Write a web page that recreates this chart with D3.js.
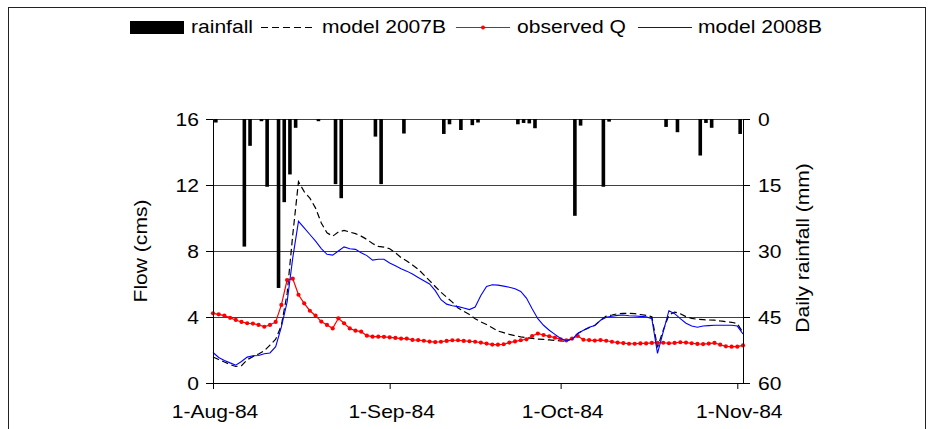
<!DOCTYPE html>
<html>
<head>
<meta charset="utf-8">
<script src="https://cdn.jsdelivr.net/npm/d3@7"></script>
<style>
  html, body { margin: 0; padding: 0; background: #fff; }
  svg { display: block; }
  text { font-family: "Liberation Sans", Arial, sans-serif; font-size: 18px; fill: #000; }
</style>
</head>
<body>
<svg id="chart" width="935" height="429"></svg>
<script>
// Daily series, 1 Aug 1984 .. 2 Nov 1984 (one value per day)
const startDate = "1984-08-01";
const endDate = "1984-11-02";

const observedQ = [
  4.22, 4.16, 4.08, 3.95, 3.82, 3.70, 3.62, 3.60, 3.52, 3.41,
  3.52, 3.70, 4.73, 6.24, 6.32, 5.35, 4.83, 4.38, 4.08, 3.72,
  3.52, 3.31, 3.92, 3.62, 3.31, 3.17, 3.11, 2.87, 2.81, 2.81,
  2.80, 2.77, 2.73, 2.69, 2.69, 2.61, 2.60, 2.56, 2.51, 2.48,
  2.50, 2.55, 2.59, 2.59, 2.55, 2.53, 2.50, 2.45, 2.39, 2.33,
  2.32, 2.35, 2.45, 2.52, 2.59, 2.65, 2.85, 3.00, 2.91, 2.83,
  2.75, 2.65, 2.58, 2.69, 2.85, 2.62, 2.60, 2.57, 2.60, 2.56,
  2.50, 2.45, 2.42, 2.38, 2.38, 2.40, 2.40, 2.43, 2.44, 2.44,
  2.41, 2.43, 2.47, 2.45, 2.41, 2.37, 2.36, 2.39, 2.43, 2.32,
  2.22, 2.20, 2.20, 2.28
];

const model2007B = [
  1.58, 1.42, 1.27, 1.12, 1.00, 1.05, 1.41, 1.60, 1.76, 1.95,
  2.30, 2.65, 3.50, 5.40, 9.00, 12.20, 11.60, 11.20, 10.60, 9.70,
  9.10, 8.90, 9.15, 9.25, 9.15, 9.05, 8.90, 8.70, 8.45, 8.28,
  8.24, 8.14, 7.90, 7.60, 7.40, 7.15, 6.90, 6.55, 6.20, 5.85,
  5.50, 5.20, 4.90, 4.55, 4.35, 4.15, 3.90, 3.70, 3.55, 3.35,
  3.15, 3.05, 2.95, 2.87, 2.80, 2.74, 2.70, 2.66, 2.64, 2.61,
  2.58, 2.55, 2.52, 2.70, 3.00, 3.20, 3.35, 3.50, 3.80, 4.05,
  4.12, 4.20, 4.22, 4.22, 4.20, 4.15, 4.10, 4.02, 2.16, 3.20,
  4.12, 4.30, 4.20, 4.02, 3.92, 3.86, 3.84, 3.82, 3.81, 3.76,
  3.72, 3.68, 3.60, 3.05
];

const model2008B = [
  1.85, 1.55, 1.37, 1.22, 1.08, 1.30, 1.57, 1.65, 1.67, 1.77,
  1.82, 2.20, 3.40, 4.90, 7.60, 9.80, 9.40, 9.00, 8.60, 8.15,
  7.80, 7.75, 8.00, 8.25, 8.14, 8.10, 7.90, 7.72, 7.45, 7.50,
  7.50, 7.27, 7.10, 6.93, 6.78, 6.60, 6.40, 6.20, 6.00, 5.60,
  5.05, 4.78, 4.68, 4.63, 4.55, 4.45, 4.60, 5.30, 5.85, 5.95,
  5.93, 5.87, 5.80, 5.71, 5.55, 5.15, 4.50, 3.90, 3.50, 3.20,
  2.95, 2.70, 2.56, 2.65, 3.00, 3.20, 3.38, 3.48, 3.80, 3.98,
  4.05, 4.10, 4.12, 4.08, 4.06, 4.04, 4.02, 3.90, 1.80, 3.10,
  4.38, 4.20, 3.90, 3.62, 3.45, 3.38, 3.45, 3.48, 3.50, 3.50,
  3.50, 3.50, 3.45, 2.97
];

// Days with measurable rainfall
const rainDates = [
  "1984-08-01", "1984-08-06", "1984-08-07", "1984-08-09", "1984-08-10",
  "1984-08-12", "1984-08-13", "1984-08-14", "1984-08-15", "1984-08-19",
  "1984-08-22", "1984-08-23", "1984-08-29", "1984-08-30", "1984-09-03",
  "1984-09-10", "1984-09-11", "1984-09-13", "1984-09-15", "1984-09-16",
  "1984-09-23", "1984-09-24", "1984-09-25", "1984-09-26", "1984-10-03",
  "1984-10-04", "1984-10-08", "1984-10-09", "1984-10-19", "1984-10-21",
  "1984-10-25", "1984-10-26", "1984-10-27", "1984-11-01"
];
const rainMm = [
  0.8, 29.0, 6.1, 0.5, 15.4,
  38.4, 18.9, 12.6, 2.0, 0.5,
  14.8, 18.0, 4.0, 14.8, 3.3,
  3.4, 1.2, 2.5, 1.4, 0.8,
  1.2, 0.9, 1.0, 2.1, 22.0,
  1.5, 15.4, 0.6, 1.8, 3.0,
  8.3, 0.9, 2.0, 3.4
];

const flowTicks = [0, 4, 8, 12, 16];
const rainTicks = [0, 15, 30, 45, 60];
const dateTicks = ["1984-08-01", "1984-09-01", "1984-10-01", "1984-11-01"];
const legendLabels = ["rainfall", "model 2007B", "observed Q", "model 2008B"];

// ---- layout ----
const svg = d3.select("#chart");
const plot = { left: 213, right: 743, top: 119, bottom: 383 };
const stretchX = 1.17;              // wide lettering
const parse = d3.utcParse("%Y-%m-%d");
const start = parse(startDate);

const x = d3.scaleUtc().domain([start, parse(endDate)]).range([plot.left, plot.right]);
const yFlow = d3.scaleLinear().domain([0, 16]).range([plot.bottom, plot.top]);
const yRain = d3.scaleLinear().domain([0, 60]).range([plot.top, plot.bottom]);

const dayDate = i => d3.utcDay.offset(start, i);
const dayW = x(dayDate(1)) - x(start);

// outer chart frame
svg.append("rect")
  .attr("x", 8.5).attr("y", 7.5).attr("width", 917).attr("height", 440)
  .attr("fill", "none").attr("stroke", "#222").attr("stroke-width", 1);

// horizontal gridlines
svg.append("g")
  .attr("transform", `translate(${plot.left},0)`)
  .call(d3.axisLeft(yFlow).tickValues(flowTicks.filter(v => v > 0))
    .tickSize(-(plot.right - plot.left)).tickSizeOuter(0).tickFormat(""))
  .call(g => g.select(".domain").remove())
  .call(g => g.selectAll(".tick line").attr("stroke", "#404040"));

// rainfall bars hanging from the top
const barW = 3.6;
svg.append("g").selectAll("rect")
  .data(rainDates.map((d, i) => ({ date: parse(d), mm: rainMm[i] })))
  .join("rect")
  .attr("x", d => x(d.date) + dayW / 2 - barW / 2)
  .attr("y", yRain(0))
  .attr("width", barW)
  .attr("height", d => yRain(d.mm) - yRain(0))
  .attr("fill", "#000");

// flow lines
const line = d3.line().x((d, i) => x(dayDate(i))).y(d => yFlow(d));

svg.append("path").datum(model2007B)
  .attr("d", line).attr("fill", "none")
  .attr("stroke", "#000").attr("stroke-width", 1.2).attr("stroke-dasharray", "6.5,3.5");

svg.append("path").datum(observedQ)
  .attr("d", line).attr("fill", "none")
  .attr("stroke", "#ff0000").attr("stroke-width", 1.2);
svg.append("g").selectAll("circle").data(observedQ).join("circle")
  .attr("cx", (d, i) => x(dayDate(i))).attr("cy", d => yFlow(d))
  .attr("r", 2.1).attr("fill", "#ff0000");

svg.append("path").datum(model2008B)
  .attr("d", line).attr("fill", "none")
  .attr("stroke", "#0000ff").attr("stroke-width", 1.1);

// axes
function styleAxis(g, dx, dy) {
  g.attr("font-size", null).attr("font-family", null);
  g.select(".domain").attr("stroke", "#000");
  g.selectAll(".tick line").attr("stroke", "#000");
  g.selectAll(".tick text")
    .attr("x", null).attr("y", null).attr("dy", null)
    .attr("fill", "#000")
    .attr("transform", `translate(${dx},${dy}) scale(${stretchX},1)`);
}

svg.append("g")
  .attr("transform", `translate(${plot.left},0)`)
  .call(d3.axisLeft(yFlow).tickValues(flowTicks).tickSize(7).tickSizeOuter(0))
  .call(g => styleAxis(g, -14, 6.5));

svg.append("g")
  .attr("transform", `translate(${plot.right},0)`)
  .call(d3.axisRight(yRain).tickValues(rainTicks).tickSize(7).tickSizeOuter(0))
  .call(g => styleAxis(g, 15, 6.5));

svg.append("g")
  .attr("transform", `translate(0,${plot.bottom})`)
  .call(d3.axisBottom(x).tickValues(dateTicks.map(parse))
    .tickFormat(d3.utcFormat("%-d-%b-%y")).tickSize(6).tickSizeOuter(0))
  .call(g => styleAxis(g, 1.5, 35));

// axis titles
svg.append("text")
  .attr("text-anchor", "middle")
  .attr("transform", `translate(147,${(plot.top + plot.bottom) / 2}) rotate(-90) scale(${stretchX},1)`)
  .text("Flow (cms)");

svg.append("text")
  .attr("text-anchor", "middle")
  .attr("transform", `translate(809,248) rotate(-90) scale(${stretchX},1)`)
  .text("Daily rainfall (mm)");

// legend
const legend = svg.append("g");
const legendY = 27.5;
const items = [
  { key: 130, text: 191 },
  { key: 261, text: 322 },
  { key: 456, text: 517 },
  { key: 638, text: 698 }
];
const keyW = 54;

legend.append("rect")
  .attr("x", items[0].key).attr("y", 21).attr("width", keyW).attr("height", 13)
  .attr("fill", "#000");
legend.append("line")
  .attr("x1", items[1].key).attr("x2", items[1].key + keyW)
  .attr("y1", legendY).attr("y2", legendY)
  .attr("stroke", "#000").attr("stroke-width", 1.2).attr("stroke-dasharray", "7,4");
legend.append("line")
  .attr("x1", items[2].key).attr("x2", items[2].key + keyW)
  .attr("y1", legendY).attr("y2", legendY)
  .attr("stroke", "#ff0000").attr("stroke-width", 1.2);
legend.append("circle")
  .attr("cx", items[2].key + keyW / 2).attr("cy", legendY).attr("r", 2)
  .attr("fill", "#ff0000");
legend.append("line")
  .attr("x1", items[3].key).attr("x2", items[3].key + keyW)
  .attr("y1", legendY).attr("y2", legendY)
  .attr("stroke", "#0000ff").attr("stroke-width", 1.1);

legend.selectAll("text").data(legendLabels).join("text")
  .attr("transform", (d, i) => `translate(${items[i].text},33) scale(${stretchX},1)`)
  .text(d => d);
</script>
</body>
</html>
